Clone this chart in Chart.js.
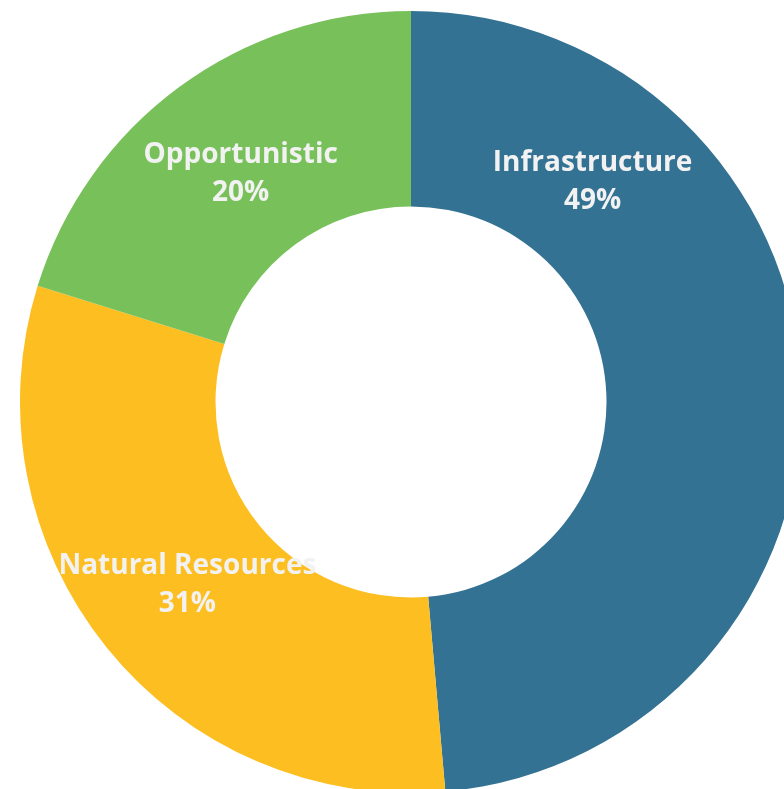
<!DOCTYPE html>
<html>
<head>
<meta charset="utf-8">
<script src="https://cdn.jsdelivr.net/npm/chart.js@4"></script>
<style>
  html, body { margin: 0; padding: 0; overflow: hidden; background: #fff; width: 784px; height: 789px; }
  #wrap { position: absolute; left: 20px; top: 11px; }
</style>
</head>
<body>
<div id="wrap"><canvas id="portfolioChart" width="782" height="782"></canvas></div>
<script>
// chart data
const categories = ['Infrastructure', 'Natural Resources', 'Opportunistic'];
const shares = [48.6, 31.2, 20.2];
const shareLabels = ['49%', '31%', '20%'];
const sliceColors = ['#347293', '#FDBE21', '#78C15A'];

// draws the two-line white label on each slice
const sliceLabels = {
    id: 'sliceLabels',
    afterDatasetsDraw(chart) {
        const ctx = chart.ctx;
        const arcs = chart.getDatasetMeta(0).data;
        ctx.save();
        ctx.fillStyle = '#F2F2F2';
        ctx.textAlign = 'center';
        ctx.textBaseline = 'middle';
        ctx.font = 'bold 28px "Open Sans", sans-serif';
        arcs.forEach(function(arc, i) {
            const p = arc.getProps(['x', 'y', 'startAngle', 'endAngle', 'innerRadius', 'outerRadius'], true);
            // the big slice gets its label pulled toward the top, the rest sit mid-slice
            const frac = i === 0 ? 0.224 : 0.5;
            const a = p.startAngle + (p.endAngle - p.startAngle) * frac;
            const r = (p.innerRadius + p.outerRadius) / 2 - 6;
            const x = p.x + Math.cos(a) * r;
            const y = p.y + Math.sin(a) * r + 3;
            ctx.fillText(categories[i], x, y - 19);
            ctx.fillText(shareLabels[i], x, y + 19);
        });
        ctx.restore();
    }
};

new Chart(document.getElementById('portfolioChart'), {
    type: 'doughnut',
    data: {
        labels: categories,
        datasets: [{
            data: shares,
            backgroundColor: sliceColors,
            borderWidth: 0
        }]
    },
    options: {
        responsive: false,
        animation: false,
        cutout: '50%',
        layout: { padding: 0 },
        plugins: {
            legend: { display: false },
            tooltip: { enabled: false }
        }
    },
    plugins: [sliceLabels]
});
</script>
</body>
</html>
